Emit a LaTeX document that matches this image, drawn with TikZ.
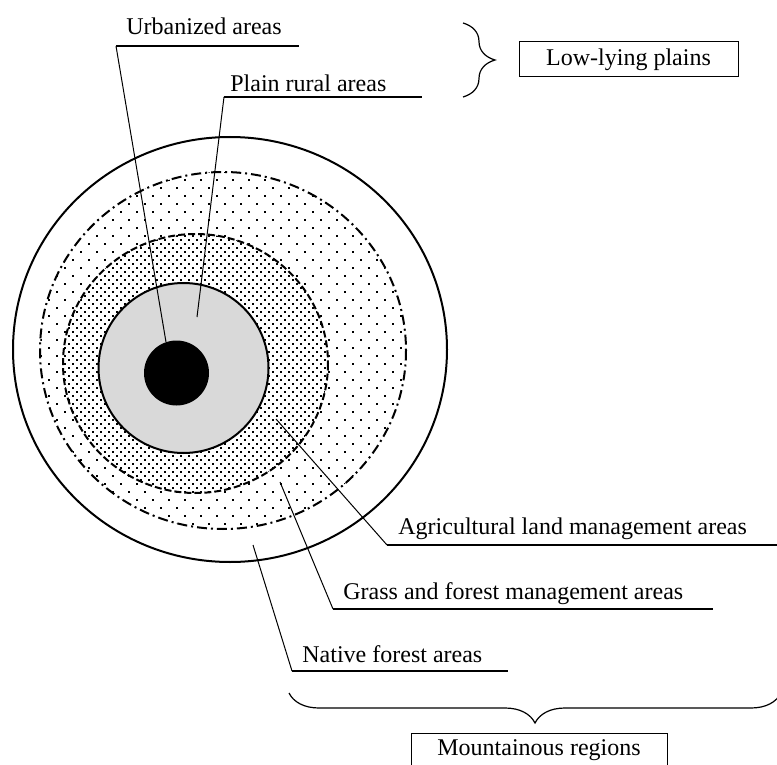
\documentclass[tikz,border=0pt]{standalone}
\usepackage{fontspec}
\setmainfont{Liberation Serif}
\usepackage{tikz}
\usetikzlibrary{patterns}
\usetikzlibrary{decorations.pathreplacing}
\pgfdeclarepatternformonly{sparsedots}{\pgfpoint{-0.5pt}{-0.5pt}}{\pgfpoint{7.5pt}{7.5pt}}{\pgfpoint{8pt}{8pt}}{
	\pgfpathrectangle{\pgfpoint{0pt}{0pt}}{\pgfpoint{0.9pt}{0.9pt}}
	\pgfpathrectangle{\pgfpoint{4pt}{4pt}}{\pgfpoint{0.9pt}{0.9pt}}
	\pgfusepath{fill}
}
\pgfdeclarepatternformonly{densedots}{\pgfpoint{-0.5pt}{-0.5pt}}{\pgfpoint{3.5pt}{3.5pt}}{\pgfpoint{4pt}{4pt}}{
	\pgfpathrectangle{\pgfpoint{0pt}{0pt}}{\pgfpoint{0.9pt}{0.9pt}}
	\pgfpathrectangle{\pgfpoint{2pt}{2pt}}{\pgfpoint{0.9pt}{0.9pt}}
	\pgfusepath{fill}
}
\tikzset{
	ringline/.style={line width=1pt},
	leaderstyle/.style={line width=0.5pt},
	underlinestyle/.style={line width=0.9pt},
	labelstyle/.style={anchor=base west,inner sep=0pt},
	boxstyle/.style={draw,line width=0.5pt,inner sep=0pt,minimum height=17.5pt},
	bracestyle/.style={decorate,decoration={brace,amplitude=#1},line width=0.6pt}
}

\begin{document}
\begin{tikzpicture}[x=0.5pt,y=-0.5pt]
	\fontsize{12pt}{14pt}\selectfont
	\useasboundingbox (0,0) rectangle (777,765);
	\draw[ringline,fill=white] (230,349.5) ellipse [x radius=217,y radius=212.5];
	\draw[ringline,pattern=sparsedots,dash pattern=on 5pt off 2pt on 1pt off 2pt] (223,350.5) ellipse [x radius=183,y radius=178.5];
	\fill[white] (195.5,363.5) ellipse [x radius=132.5,y radius=129.5];
	\draw[ringline,pattern=densedots,dash pattern=on 3.5pt off 1.5pt] (195.5,363.5) ellipse [x radius=132.5,y radius=129.5];
	\draw[ringline,fill=gray!30] (183.5,368) circle [radius=85];
	\fill (176.5,373) circle [radius=32.5];

	\coordinate (urbtip) at (166,342);
	\coordinate (urbknee) at (116,46);
	\coordinate (urbend) at (299,46);
	\coordinate (rurtip) at (197,317);
	\coordinate (rurknee) at (224,97);
	\coordinate (rurend) at (422,97);
	\coordinate (agrtip) at (276,419);
	\coordinate (agrknee) at (387,545);
	\coordinate (agrend) at (777,545);
	\coordinate (grstip) at (280,482);
	\coordinate (grsknee) at (333,609);
	\coordinate (grsend) at (713,609);
	\coordinate (nattip) at (253,545);
	\coordinate (natknee) at (292,671);
	\coordinate (natend) at (508,671);

	\foreach \n in {urb,rur,agr,grs,nat}
	{
		\draw[leaderstyle] (\n tip)--(\n knee);
		\draw[underlinestyle] (\n knee)--(\n end);
	}

	\node[labelstyle] (urb) at (126,35) {Urbanized areas};
	\node[labelstyle] (rur) at (230,91.5) {Plain rural areas};
	\node[labelstyle] (agr) at (398,534.5) {Agricultural land management areas};
	\node[labelstyle] (grs) at (343,599.5) {Grass and forest management areas};
	\node[labelstyle] (nat) at (302,662) {Native forest areas};

	\coordinate (lowtop) at (463,23);
	\coordinate (lowbot) at (463,97);
	\draw[bracestyle=16pt] (lowtop)--(lowbot);
	\node[boxstyle,minimum width=109.5pt] (low) at (628.5,59.5) {Low-lying plains};

	\coordinate (mtnright) at (781,693);
	\coordinate (mtnleft) at (289,693);
	\draw[bracestyle=15pt] (mtnright)--(mtnleft);
	\node[boxstyle,minimum width=128pt] (mtn) at (539,750.5) {Mountainous regions};
\end{tikzpicture}
\end{document}
